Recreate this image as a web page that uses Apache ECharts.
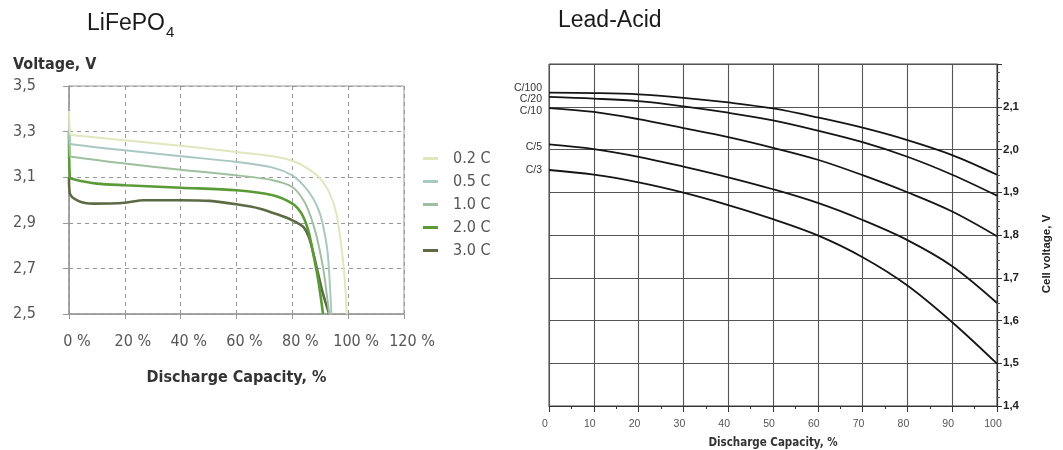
<!DOCTYPE html>
<html><head><meta charset="utf-8">
<script src="https://cdn.jsdelivr.net/npm/echarts@6/dist/echarts.min.js"></script>
<style>html,body{margin:0;padding:0;background:#fff}#c{width:1063px;height:450px}</style>
</head><body><div id="c"></div>
<script>
// ---------- LiFePO4 (left) ----------
const lfpNames = ['0.2 C', '0.5 C', '1.0 C', '2.0 C', '3.0 C'];
const lfpColors = ['#dfe7bd', '#a9c8c2', '#9fc09f', '#5b9b37', '#5d6b45'];
const lfpX02 = [0, 0.4, 1, 20, 40, 60, 73, 80, 85, 90, 93.4, 95.8, 97.6, 98.8, 99.5];
const lfpV02 = [3.39, 3.29, 3.285, 3.262, 3.238, 3.211, 3.192, 3.172, 3.142, 3.094, 3.028, 2.94, 2.793, 2.647, 2.5];
const lfpX05 = [0, 0.4, 1, 20, 40, 60, 73, 80, 84, 87.5, 89.9, 91.6, 92.8, 94];
const lfpV05 = [3.34, 3.25, 3.245, 3.218, 3.192, 3.167, 3.142, 3.108, 3.064, 3.006, 2.94, 2.852, 2.749, 2.5];
const lfpX10 = [0, 0.4, 1, 20, 40, 60, 73, 80, 84, 86.5, 88.7, 91, 92.3, 93.2];
const lfpV10 = [3.30, 3.195, 3.19, 3.160, 3.133, 3.108, 3.087, 3.057, 2.999, 2.93, 2.84, 2.705, 2.588, 2.5];
const lfpX20 = [0, 0.3, 2, 10, 20, 40, 60, 73, 80, 83.3, 85.7, 87.5, 89.3, 91];
const lfpV20 = [3.30, 3.10, 3.09, 3.072, 3.065, 3.054, 3.043, 3.021, 2.984, 2.94, 2.867, 2.764, 2.647, 2.5];
const lfpX30 = [0, 0.3, 3.5, 8.7, 20, 26.8, 40, 50.5, 60, 68.4, 75.5, 80, 84, 86.3, 88.7, 91, 93.2];
const lfpV30 = [3.10, 3.03, 2.995, 2.984, 2.988, 2.999, 2.999, 2.996, 2.981, 2.962, 2.933, 2.911, 2.881, 2.823, 2.705, 2.588, 2.5];
const lfpXs = [lfpX02, lfpX05, lfpX10, lfpX20, lfpX30];
const lfpVs = [lfpV02, lfpV05, lfpV10, lfpV20, lfpV30];
const lfpWidths = [2, 2, 2, 2.6, 2.6];

// ---------- Lead-Acid (right) ----------
const laNames = ['C/100', 'C/20', 'C/10', 'C/5', 'C/3'];
const laX = [0, 10, 20, 30, 40, 50, 60, 70, 80, 90, 100];
const laC100 = [2.133, 2.132, 2.129, 2.121, 2.110, 2.096, 2.075, 2.051, 2.022, 1.987, 1.941];
const laC20  = [2.123, 2.119, 2.113, 2.101, 2.086, 2.068, 2.044, 2.017, 1.983, 1.941, 1.892];
const laC10  = [2.097, 2.088, 2.071, 2.050, 2.029, 2.004, 1.976, 1.940, 1.900, 1.855, 1.797];
const laC5   = [2.012, 2.001, 1.983, 1.960, 1.935, 1.907, 1.875, 1.835, 1.788, 1.727, 1.641];
const laC3   = [1.952, 1.941, 1.923, 1.899, 1.870, 1.837, 1.799, 1.748, 1.682, 1.596, 1.499];
const laVs = [laC100, laC20, laC10, laC5, laC3];
const laLabelDy = [-5, 2, 3, 3, 0];

const cond = "'DejaVu Sans Condensed', 'DejaVu Sans', sans-serif";
const arial = "'Liberation Sans', Arial, sans-serif";
const comma = v => v.toFixed(1).replace('.', ',');

const series = [];
lfpNames.forEach((n, i) => {
  series.push({
    name: n, type: 'line', xAxisIndex: 0, yAxisIndex: 0,
    data: lfpXs[i].map((x, k) => [x, lfpVs[i][k]]),
    showSymbol: false, smooth: 0.3,
    color: lfpColors[i], itemStyle: { color: lfpColors[i] },
    lineStyle: { color: lfpColors[i], width: lfpWidths[i] },
    z: 10 - i
  });
});
laNames.forEach((n, i) => {
  series.push({
    name: n, type: 'line', xAxisIndex: 1, yAxisIndex: 1,
    data: laX.map((x, k) => [x, laVs[i][k]]),
    showSymbol: true, symbol: 'circle', symbolSize: 0.01,
    smooth: 0.35,
    lineStyle: { color: '#151515', width: 1.8 }, itemStyle: { color: '#151515' },
    label: {
      show: true, position: 'left', distance: 7, offset: [0, laLabelDy[i]],
      formatter: p => p.dataIndex === 0 ? p.seriesName : '',
      fontFamily: arial, fontSize: 10.5, color: '#333'
    }
  });
});

const chart = echarts.init(document.getElementById('c'));
chart.setOption({
  animation: false,
  backgroundColor: '#fff',
  graphic: [
    { type: 'text', left: 87, top: 12, style: { text: 'LiFePO', font: '23px ' + arial, fill: '#1a1a1a' } },
    { type: 'text', left: 166, top: 25, style: { text: '4', font: '15px ' + arial, fill: '#1a1a1a' } },
    { type: 'text', left: 558, top: 9, style: { text: 'Lead-Acid', font: '23px ' + arial, fill: '#1a1a1a' } },
    { type: 'text', left: 13, top: 57, style: { text: 'Voltage, V', font: 'bold 16px ' + cond, fill: '#333' } }
  ],
  legend: {
    data: lfpNames, orient: 'vertical', left: 418, top: 145,
    icon: 'rect', itemWidth: 15, itemHeight: 3, itemGap: 6,
    textStyle: { fontSize: 16, color: '#555', fontFamily: cond, padding: [0, 0, 0, 10], lineHeight: 17 }
  },
  grid: [
    { left: 69, top: 86, width: 335, height: 228, show: true, borderColor: '#9a9a9a', borderWidth: 1, outerBoundsMode: 'none', containLabel: false },
    { left: 549, top: 64, width: 448, height: 342, show: true, borderColor: '#444', borderWidth: 1, outerBoundsMode: 'none', containLabel: false }
  ],
  xAxis: [
    {
      type: 'value', gridIndex: 0, min: 0, max: 120, interval: 20,
      name: 'Discharge Capacity, %', nameLocation: 'middle', nameGap: 56,
      nameTextStyle: { fontFamily: cond, fontWeight: 'bold', fontSize: 16, color: '#333' },
      axisLine: { show: true, onZero: false, lineStyle: { color: '#999', width: 1.5 } },
      axisTick: { show: true, length: 5, lineStyle: { color: '#999' } },
      splitLine: { show: true, lineStyle: { color: '#999', type: [4, 4], width: 1 } },
      axisLabel: { formatter: v => v + ' %', fontFamily: cond, fontSize: 16, color: '#555', margin: 20, padding: [0, 0, 0, 16] }
    },
    {
      type: 'value', gridIndex: 1, min: 0, max: 100, interval: 10,
      name: 'Discharge Capacity, %', nameLocation: 'middle', nameGap: 31,
      nameTextStyle: { fontFamily: cond, fontWeight: 'bold', fontSize: 11.5, color: '#333' },
      axisLine: { show: true, onZero: false, lineStyle: { color: '#333', width: 1.2 } },
      axisTick: { show: true, length: 6, lineStyle: { color: '#333' } },
      minorTick: { show: true, splitNumber: 2, length: 3, lineStyle: { color: '#333' } },
      splitLine: { show: true, lineStyle: { color: '#555', width: 1.1 } },
      axisLabel: { fontFamily: arial, fontSize: 10.5, color: '#555', margin: 13, padding: [0, 8, 0, 0] }
    }
  ],
  yAxis: [
    {
      type: 'value', gridIndex: 0, min: 2.5, max: 3.5, interval: 0.2,
      axisLine: { show: true, onZero: false, lineStyle: { color: '#999', width: 1.5 } },
      axisTick: { show: true, length: 6, lineStyle: { color: '#999' } },
      splitLine: { show: true, lineStyle: { color: '#999', type: [4, 4], width: 1 } },
      axisLabel: { formatter: comma, fontFamily: cond, fontSize: 16, color: '#555', margin: 33 }
    },
    {
      type: 'value', gridIndex: 1, position: 'right', min: 1.4, max: 2.2, interval: 0.1,
      name: 'Cell voltage, V', nameLocation: 'middle', nameGap: 44, nameRotate: 90,
      nameTextStyle: { fontFamily: arial, fontWeight: 'bold', fontSize: 11.5, color: '#222', padding: [0, 38, 0, 0] },
      axisLine: { show: true, onZero: false, lineStyle: { color: '#333', width: 1.2 } },
      axisTick: { show: true, length: 5, lineStyle: { color: '#333' } },
      minorTick: { show: true, splitNumber: 5, length: 3, lineStyle: { color: '#555' } },
      splitLine: { show: true, lineStyle: { color: '#555', width: 1.1 } },
      axisLabel: { formatter: v => (v > 2.15 ? '' : comma(v)), fontFamily: arial, fontWeight: 'bold', fontSize: 11.5, color: '#222', margin: 6 }
    }
  ],
  series: series
});
</script></body></html>
